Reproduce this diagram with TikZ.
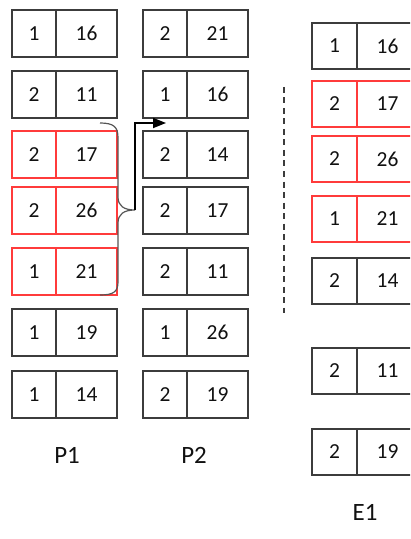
\documentclass[tikz,border=0pt]{standalone}
\usepackage{fontspec}
\setmainfont{Carlito}
\usetikzlibrary{arrows.meta}
\definecolor{boxc}{HTML}{3C3C3C}
\definecolor{redc}{HTML}{FF3B3B}
\definecolor{txtc}{HTML}{111111}
\definecolor{bracec}{HTML}{555555}
\tikzset{
  cell/.style={draw=boxc, line width=1.3bp, minimum height=47bp, inner sep=0pt,
    outer sep=0pt, anchor=north west, text=txtc, font=\fontsize{21.5}{24}\selectfont},
  redcell/.style={draw=redc},
  lbl/.style={text=txtc, font=\fontsize{25}{28}\selectfont, inner sep=0pt},
  arr/.style={line width=1.8bp, black, -{Triangle[length=13bp,width=10bp]}},
  bracepath/.style={draw=bracec, line width=1.2bp},
  sep/.style={draw=boxc, line width=1.3bp, dash pattern=on 6bp off 4.5bp}
}
\newcommand\cellrow[7]{%
  \node[cell, minimum width=#7bp, #6] (#1a) at (#2,#3) {#4};
  \node[cell, minimum width=61bp, #6] (#1b) at (#1a.north east) {#5};}
\begin{document}
\begin{tikzpicture}[x=1bp,y=-1bp]
\useasboundingbox (0,0) rectangle (410,539);
\clip (0,0) rectangle (410,539);
% P1
\cellrow{pa}{12}{10}{1}{16}{}{44}
\cellrow{pb}{12}{71}{2}{11}{}{44}
\cellrow{pc}{12}{131}{2}{17}{redcell}{44}
\cellrow{pd}{12}{187}{2}{26}{redcell}{44}
\cellrow{pe}{12}{248}{1}{21}{redcell}{44}
\cellrow{pf}{12}{309}{1}{19}{}{44}
\cellrow{pg}{12}{371}{1}{14}{}{44}
% P2
\cellrow{qa}{143}{10}{2}{21}{}{44}
\cellrow{qb}{143}{71}{1}{16}{}{44}
\cellrow{qc}{143}{131}{2}{14}{}{44}
\cellrow{qd}{143}{187}{2}{17}{}{44}
\cellrow{qe}{143}{248}{2}{11}{}{44}
\cellrow{qf}{143}{309}{1}{26}{}{44}
\cellrow{qg}{143}{371}{2}{19}{}{44}
% E1
\cellrow{ea}{312}{23}{1}{16}{minimum height=46bp}{45}
\cellrow{eb}{312}{81}{2}{17}{redcell,minimum height=46bp}{45}
\cellrow{ec}{312}{136}{2}{26}{redcell,minimum height=46bp}{45}
\cellrow{ed}{312}{196}{1}{21}{redcell,minimum height=46bp}{45}
\cellrow{ee}{312}{258}{2}{14}{minimum height=46bp}{45}
\cellrow{ef}{312}{348}{2}{11}{minimum height=46bp}{45}
\cellrow{eg}{312}{429}{2}{19}{minimum height=46bp}{45}
% labels
\node[lbl] (lp1) at (67,455) {P1};
\node[lbl] (lp2) at (194,455) {P2};
\node[lbl] (le1) at (365,512) {E1};
% dashed separator
\coordinate (sa) at (284,87);
\coordinate (sb) at (284,313);
\draw[sep] (sa) -- (sb);
% brace
\coordinate (btop) at (100,123);
\coordinate (tip) at (135,210);
\coordinate (bbot) at (100,295);
\draw[bracepath] (btop) .. controls (114,123) and (118,127) .. (118,138)
  -- (118,197) .. controls (118,206) and (124,210) .. (tip)
  .. controls (124,210) and (118,214) .. (118,223)
  -- (118,282) .. controls (118,292) and (113,295) .. (bbot);
% arrow
\coordinate (aend) at (166,123);
\draw[arr] (tip) |- (aend);
\end{tikzpicture}
\end{document}
